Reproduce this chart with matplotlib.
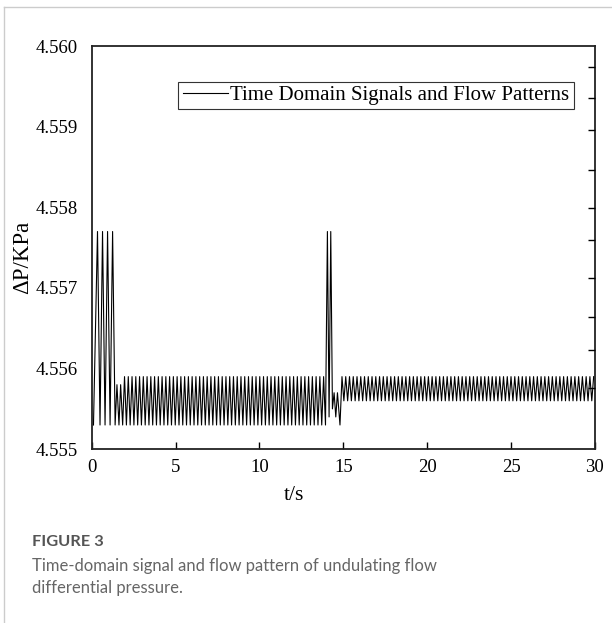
import numpy as np
import matplotlib.pyplot as plt
from matplotlib.lines import Line2D

# start of the record: four tall spikes and two small bumps
head_t = [0.10, 0.34, 0.49, 0.64, 0.79, 0.94, 1.09, 1.24, 1.39, 1.50, 1.62, 1.72, 1.84]
head_p = [4.5553, 4.5577, 4.5553, 4.5577, 4.5553, 4.5577, 4.5553, 4.5577, 4.5553,
          4.5558, 4.5553, 4.5558, 4.5553]

# around t = 14 s: two spikes, then the drop into the second regime
mid_t = [13.95, 14.05, 14.15, 14.25, 14.35, 14.45, 14.55, 14.65, 14.80, 14.92]
mid_p = [4.5553, 4.5577, 4.5554, 4.5577, 4.5555, 4.5557, 4.5554, 4.5557, 4.5553, 4.5559]

# steady oscillation regimes: start, end, low, high, half period (s)
regime1 = (1.84, 13.95, 4.5553, 4.5559, 0.112)
regime2 = (14.92, 30.0, 4.5556, 4.5559, 0.112)

xticks = [0, 5, 10, 15, 20, 25, 30]
yticks = [4.555, 4.556, 4.557, 4.558, 4.559, 4.560]
right_ticks = [0.948, 0.871, 0.792, 0.692, 0.598, 0.519, 0.424, 0.328, 0.246, 0.151]


def zigzag(start, end, low, high, half):
    tt = np.arange(start, end + 1e-9, half)
    pp = np.where(np.arange(len(tt)) % 2 == 0, low, high)
    return tt, pp


t1, p1 = zigzag(*regime1)
# second regime starts from its high level
t2, p2 = zigzag(regime2[0], regime2[1], regime2[3], regime2[2], regime2[4])

t = np.concatenate([head_t, t1[1:], mid_t[1:], t2[1:]])
p = np.concatenate([head_p, p1[1:], mid_p[1:], p2[1:]])

plt.rcParams['font.family'] = ['Liberation Serif', 'DejaVu Serif']

fig = plt.figure(figsize=(6.12, 6.23), dpi=100)
ax = fig.add_axes([0.150, 0.279, 0.822, 0.647])

ax.plot(t, p, color='black', lw=0.8)
ax.set_xlim(0, 30)
ax.set_ylim(4.555, 4.560)
ax.set_xticks(xticks)
ax.set_yticks(yticks)
ax.set_yticklabels([f'{v:.3f}' for v in yticks])
ax.tick_params(axis='x', direction='in', length=5, width=1, labelsize=13.5, pad=7)
ax.tick_params(axis='y', direction='in', length=0, labelsize=13.5, pad=10)
for s in ax.spines.values():
    s.set_linewidth(1.3)
    s.set_color('#222222')

ax2 = ax.twinx()
ax2.set_ylim(0, 1)
ax2.set_yticks(right_ticks)
ax2.set_yticklabels([])
ax2.tick_params(axis='y', direction='in', length=5, width=1)
for s in ax2.spines.values():
    s.set_visible(False)

ax.set_xlabel('t/s', fontsize=15.5, va='center')
ax.xaxis.set_label_coords(0.402, -0.114)
ax.set_ylabel('ΔP/KPa', fontsize=16.5, va='center')
ax.yaxis.set_label_coords(-0.137, 0.476)

leg = ax.legend(handles=[Line2D([0], [0], color='black', lw=0.8)],
                labels=['Time Domain Signals and Flow Patterns'],
                loc='upper right', bbox_to_anchor=(0.958, 0.912), fontsize=15,
                frameon=True, fancybox=False, edgecolor='#333333', framealpha=1,
                borderpad=0.2, handlelength=2.2, handletextpad=0.1, borderaxespad=0)
leg.get_frame().set_linewidth(0.8)

# card border and caption
fig.add_artist(Line2D([4 / 612, 1], [1 - 7 / 623, 1 - 7 / 623], color='#cccccc', lw=1))
fig.add_artist(Line2D([4 / 612, 4 / 612], [0, 1 - 7 / 623], color='#cccccc', lw=1))
fig.text(32 / 612, 1 - 542 / 623, 'FIGURE 3', family='Lato', fontweight='bold',
         fontsize=11.8, color='#555555', va='center')
fig.text(32 / 612, 1 - 566 / 623, 'Time-domain signal and flow pattern of undulating flow',
         family='Lato', fontsize=12, color='#666666', va='center')
fig.text(32 / 612, 1 - 588 / 623, 'differential pressure.',
         family='Lato', fontsize=12, color='#666666', va='center')

fig.savefig('out.png', dpi=100)
